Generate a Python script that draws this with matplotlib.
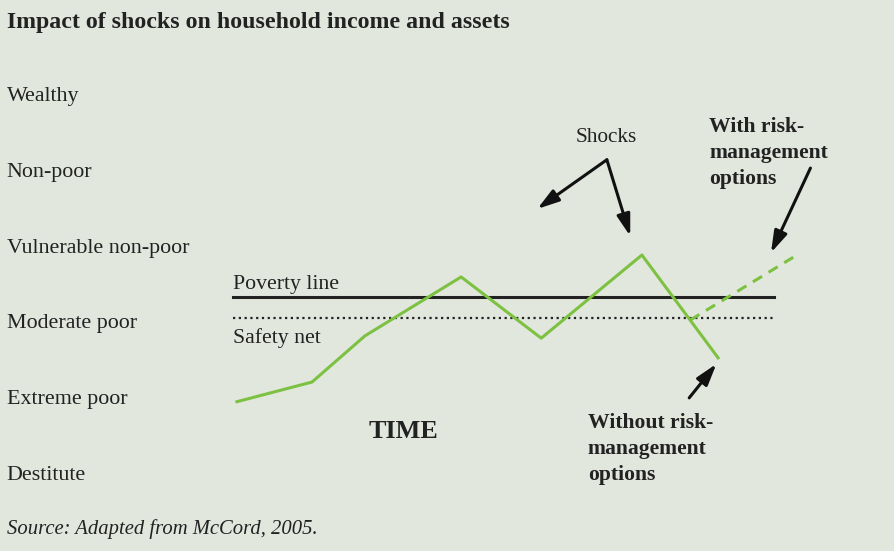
import matplotlib.pyplot as plt

# household trajectory over time (level: 0 = Destitute ... 5 = Wealthy)
levels = ["Destitute", "Extreme poor", "Moderate poor", "Vulnerable non-poor", "Non-poor", "Wealthy"]
time_pts = [0, 13.5, 23, 40.3, 54.7, 72.8, 86.5]
income = [0.93, 1.19, 1.80, 2.58, 1.77, 2.87, 1.51]
risk_time = [81.5, 100]
risk_income = [2.01, 2.84]
poverty_line = 2.31
safety_net = 2.04
line_span = [-0.7, 96.5]

bg = "#e2e7de"
green = "#7dc142"
serif = "Liberation Serif"
ink = "#222222"

fig = plt.figure(figsize=(8.95, 5.51), dpi=100, facecolor=bg)
ax = fig.add_axes([0, 0, 1, 1])
ax.set_facecolor(bg)
ax.set_xlim(-42.6, 118.3)
ax.set_ylim(-1.045, 6.243)
ax.axis("off")

ax.plot(line_span, [poverty_line] * 2, color=ink, lw=2.2)
ax.plot(line_span, [safety_net] * 2, color=ink, lw=1.6, ls=(0, (1, 1.6)))
ax.plot(time_pts, income, color=green, lw=2.2)
ax.plot(risk_time, risk_income, color=green, lw=2.2, ls=(0, (3.5, 2.5)))

for i, name in enumerate(levels):
    ax.text(-41.4, i - 0.04, name, family=serif, fontsize=15.8, color=ink, va="center", ha="left")

ax.text(-0.7, 2.48, "Poverty line", family=serif, fontsize=15.7, color=ink, va="center")
ax.text(-0.7, 1.77, "Safety net", family=serif, fontsize=15.7, color=ink, va="center")

fig.text(0.008, 0.959, "Impact of shocks on household income and assets",
         family=serif, fontsize=17.2, fontweight="bold", color=ink, va="center")
fig.text(0.008, 0.040, "Source: Adapted from McCord, 2005.",
         family=serif, fontsize=14.9, style="italic", color=ink, va="center")

ax.text(29.9, 0.53, "TIME", family=serif, fontsize=18.8, fontweight="bold", color=ink,
        ha="center", va="center")
ax.text(66.4, 4.43, "Shocks", family=serif, fontsize=15.3, color=ink, ha="center", va="center")
ax.text(84.9, 4.70, "With risk-\nmanagement\noptions", family=serif, fontsize=15.6,
        fontweight="bold", color=ink, ha="left", va="top", linespacing=1.4)
ax.text(63.1, 0.78, "Without risk-\nmanagement\noptions", family=serif, fontsize=15.6,
        fontweight="bold", color=ink, ha="left", va="top", linespacing=1.4)

arrow = dict(arrowstyle="-|>,head_length=1.3,head_width=0.4", color="#111111", lw=2.2,
             shrinkA=0, shrinkB=0)
ax.annotate("", xy=(54, 3.48), xytext=(66.5, 4.13), arrowprops=arrow)
ax.annotate("", xy=(70.7, 3.12), xytext=(66.5, 4.13), arrowprops=arrow)
ax.annotate("", xy=(96.0, 2.90), xytext=(103.1, 4.02), arrowprops=arrow)
ax.annotate("", xy=(86.2, 1.43), xytext=(81.3, 0.98), arrowprops=arrow)

fig.savefig("out.png", dpi=100, facecolor=bg)
